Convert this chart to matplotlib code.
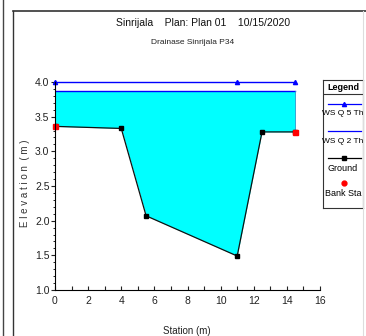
import matplotlib.pyplot as plt
from matplotlib.lines import Line2D
from matplotlib.ticker import MultipleLocator

plt.rcParams['font.family'] = ['Liberation Sans Narrow', 'Liberation Sans', 'DejaVu Sans']

# ----------------------------------------------------------------------
# data read off the cross section
# ----------------------------------------------------------------------
station = [0.0, 4.0, 5.5, 11.0, 12.5, 14.5]
ground = [3.36, 3.33, 2.07, 1.49, 3.28, 3.28]
bank_station = [0.0, 14.5]
bank_elev = [3.36, 3.28]
ws_q5_x = [0.0, 11.0, 14.5]
ws_q5 = 4.0
ws_q2 = 3.87

W, H = 366, 336
fig = plt.figure(figsize=(W / 100, H / 100), dpi=100)

def px(x, y):
    return x / W, 1 - y / H

# outer window frames
fig.add_artist(Line2D([3 / W, 3 / W], [0, 1], color='#444444', lw=1))
fig.add_artist(Line2D([13 / W, 13 / W], [0, 1 - 11 / H], color='#333333', lw=1))
fig.add_artist(Line2D([13 / W, 1], [1 - 11 / H, 1 - 11 / H], color='#333333', lw=1.2))
fig.add_artist(Line2D([363 / W, 363 / W], [0, 1 - 11 / H], color='#dddddd', lw=0.8))

ax = fig.add_axes([55 / W, 1 - 290 / H, (320 - 55) / W, (290 - 82) / H])

ax.fill_between(station, ground, ws_q2, color='#00ffff', lw=0)
ax.plot([station[0], station[-1]], [ws_q2, ws_q2], color='#0000ff', lw=1)
ax.plot([station[-1], station[-1]], [bank_elev[-1], ws_q2], color='#3399cc', lw=0.6)
ax.plot(ws_q5_x, [ws_q5] * len(ws_q5_x), color='#0000ff', lw=1, marker='^',
        markersize=3, clip_on=False)
ax.plot(station, ground, color='#111111', lw=0.9, marker='s', markersize=3.2,
        markerfacecolor='black', markeredgecolor='black')
ax.plot(bank_station, bank_elev, ls='', marker='s', markersize=3.6, color='red',
        clip_on=False)

ax.set_xlim(0, 16)
ax.set_ylim(1, 4)
ax.spines['top'].set_visible(False)
ax.spines['right'].set_visible(False)
ax.xaxis.set_major_locator(MultipleLocator(2))
ax.xaxis.set_minor_locator(MultipleLocator(1))
ax.yaxis.set_major_locator(MultipleLocator(0.5))
ax.yaxis.set_minor_locator(MultipleLocator(0.1))
ax.tick_params(axis='x', which='both', direction='in', length=3, width=0.8,
               labelsize=7.5, pad=4, colors='#222222')
ax.tick_params(axis='y', which='major', direction='out', length=3, width=0.8,
               labelsize=7.5, pad=1, colors='#222222')
ax.tick_params(axis='y', which='minor', direction='out', length=1.5, width=0.6)
ax.yaxis.set_major_formatter(lambda v, p: f"{v:.1f}")

fig.text(*px(25, 183), "E l e v a t i o n  ( m )", rotation=90, ha='center',
         va='center', fontsize=7, color='#333333')
fig.text(*px(187, 331), "Station (m)", ha='center', va='center', fontsize=7,
         color='#222222')
fig.text(*px(203, 23), "Sinrijala    Plan: Plan 01    10/15/2020", ha='center',
         va='center', fontsize=7.5, color='#111111')
fig.text(*px(193, 43), "Drainase Sinrijala P34", ha='center', va='center',
         fontsize=6, color='#222222')

# legend box
lg = fig.add_axes([323 / W, 1 - 208 / H, 40 / W, 128 / H])
lg.set_xlim(0, 1)
lg.set_ylim(0, 1)
lg.set_xticks([])
lg.set_yticks([])
for s in lg.spines.values():
    s.set_linewidth(0.8)
    s.set_color('#333333')
lg.text(0.5, 0.945, "Legend", ha='center', va='center', fontsize=6.5,
        fontweight='bold')
lg.plot([0, 1], [0.89, 0.89], color='#333333', lw=0.8)
lg.plot([0.13, 0.95], [0.81, 0.81], color='#0000ff', lw=0.9)
lg.plot([0.53], [0.81], marker='^', markersize=3, color='#0000ff')
lg.text(0.5, 0.74, "WS Q 5 Th", ha='center', va='center', fontsize=6)
lg.plot([0.13, 0.95], [0.60, 0.60], color='#0000ff', lw=0.9)
lg.text(0.5, 0.52, "WS Q 2 Th", ha='center', va='center', fontsize=6)
lg.plot([0.13, 0.95], [0.39, 0.39], color='black', lw=0.9)
lg.plot([0.53], [0.39], marker='s', markersize=3, color='black')
lg.text(0.5, 0.31, "Ground", ha='center', va='center', fontsize=6.5)
lg.plot([0.53], [0.195], marker='o', markersize=3.5, color='red', ls='')
lg.text(0.5, 0.117, "Bank Sta", ha='center', va='center', fontsize=6.5)

fig.savefig("out.png", dpi=100)
